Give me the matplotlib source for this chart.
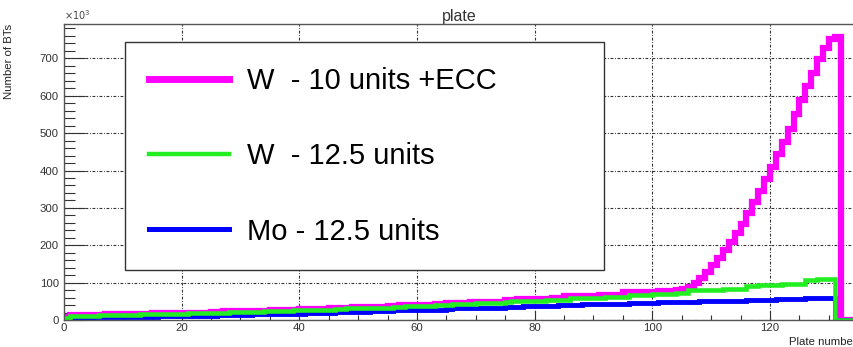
import numpy as np
import matplotlib
matplotlib.use("Agg")
import matplotlib.pyplot as plt
from matplotlib.lines import Line2D
from matplotlib.ticker import MultipleLocator

plt.rcParams['font.family'] = ['Liberation Sans', 'DejaVu Sans']

# plate bin edges 0..135, one bin per plate
plate_edges = np.arange(0, 136)

# number of base tracks per plate, in thousands
w10_ecc = [
    8,
    13, 13, 14, 14,
    14, 14, 15, 15, 15, 15, 15, 16, 16, 16,
    18, 18, 18, 19, 19, 19, 20, 20, 20, 20,
    22, 22, 23, 23, 23, 24, 24, 24, 25, 25,
    27, 27, 28, 28, 28, 29, 29, 29, 30, 30,
    32, 32, 33, 33, 34, 34, 34, 35, 35, 36,
    38, 38, 39, 39, 40, 40, 41, 41, 42, 42,
    45, 45, 46, 46, 47, 47, 48, 48, 49, 49,
    54, 54, 55, 55, 56, 56, 57, 57, 58, 58,
    63, 63, 64, 64, 65, 65, 66, 66, 67, 67,
    74, 74, 75, 75, 76, 76, 77, 77, 78, 79,
    82, 88, 98, 112, 128, 146, 165, 186, 208, 232,
    258, 286, 315, 346, 378, 410, 443, 477, 512, 550,
    588, 625, 660, 698, 728, 752, 756,
    0, 0, 0,
]

w125 = [
    5,
    11, 11, 11, 12, 12,
    13, 13, 13, 14, 14, 14, 14, 15, 15, 15,
    16, 16, 17, 17, 17, 18, 18, 18, 19, 19,
    20, 20, 21, 21, 21, 22, 22, 22, 23, 23,
    25, 25, 25, 26, 26, 26, 27, 27, 27, 28,
    30, 30, 31, 31, 31, 32, 32, 33, 33, 33,
    36, 36, 37, 37, 38, 38, 38, 39, 39, 40,
    43, 43, 44, 44, 45, 45, 45, 46, 46, 47,
    50, 50, 51, 51, 52, 52, 53, 53, 54, 54,
    58, 58, 59, 59, 60, 60, 61, 61, 62, 62,
    67, 67, 68, 68, 69, 69, 70, 70, 71, 71,
    79, 79, 80, 80, 81, 81, 82, 82, 83, 83,
    92, 92, 93, 93, 94, 94, 95, 95, 96, 96,
    108, 108, 109, 109, 110,
    0, 0, 0, 0,
]

mo125 = [
    3,
    6, 6, 6, 6, 7,
    7, 7, 8, 8, 8, 8, 9, 9, 9, 9,
    10, 10, 10, 11, 11, 11, 11, 12, 12, 12,
    13, 13, 13, 14, 14, 14, 15, 15, 15, 15,
    16, 16, 17, 17, 17, 18, 18, 18, 19, 19,
    21, 21, 21, 22, 22, 22, 23, 23, 23, 24,
    26, 26, 26, 27, 27, 27, 28, 28, 28, 29,
    31, 31, 31, 32, 32, 32, 33, 33, 33, 34,
    36, 36, 37, 37, 37, 38, 38, 38, 39, 39,
    41, 41, 42, 42, 42, 43, 43, 43, 44, 44,
    45, 45, 46, 46, 46, 47, 47, 47, 48, 48,
    49, 49, 50, 50, 50, 51, 51, 51, 52, 52,
    53, 53, 54, 54, 54, 55, 55, 55, 56, 56,
    58, 58, 59, 59, 60,
    0, 0, 0, 0,
]

labels = ["W  - 10 units +ECC", "W  - 12.5 units", "Mo - 12.5 units"]
colors = ["#ff00ff", "#22ee22", "#0000ff"]

W, H = 854, 347
fig = plt.figure(figsize=(W / 100, H / 100), dpi=100)
ax = fig.add_axes([64 / W, 27 / H, 791 / W, 296 / H])

ax.stairs(w10_ecc, plate_edges, baseline=0, color=colors[0], lw=4.5)
ax.stairs(mo125, plate_edges, baseline=0, color=colors[2], lw=3.5)
ax.stairs(w125, plate_edges, baseline=0, color=colors[1], lw=3.3)

ax.set_xlim(0, 134.45)
ax.set_ylim(0, 792)

ax.xaxis.set_major_locator(MultipleLocator(20))
ax.xaxis.set_minor_locator(MultipleLocator(5))
ax.yaxis.set_major_locator(MultipleLocator(100))
ax.yaxis.set_minor_locator(MultipleLocator(20))

ax.tick_params(axis='both', which='both', direction='in', colors='#333',
               labelsize=8.2, width=0.8, top=False, right=False)
ax.tick_params(axis='x', which='major', length=6.5, pad=2.2)
ax.tick_params(axis='x', which='minor', length=3.6)
ax.tick_params(axis='y', which='major', length=15, pad=3.6)
ax.tick_params(axis='y', which='minor', length=8)

ax.grid(True, which='major', color='#333', lw=0.8, ls=(0, (2.5, 1.5, 0.8, 1.5)))
ax.set_axisbelow(True)

for s in ax.spines.values():
    s.set_color('#555')
    s.set_linewidth(1.0)

ax.set_title('plate', fontsize=11.5, color='#333', pad=0.5)
ax.set_ylabel('Number of BTs', fontsize=8.2, color='#222', loc='top')
ax.yaxis.set_label_coords(-0.063, 1.0)
ax.set_xlabel('Plate number', fontsize=8.2, color='#222', loc='right')
ax.xaxis.set_label_coords(1.0025, -0.056)
ax.text(0.0, 1.008, r'$\times10^{3}$', transform=ax.transAxes, fontsize=7,
        color='#444', ha='left', va='bottom')

handles = [Line2D([], [], color=colors[0], lw=5.0),
           Line2D([], [], color=colors[1], lw=3.2),
           Line2D([], [], color=colors[2], lw=3.6)]
leg = ax.legend(handles, labels, loc='upper left', mode='expand',
                bbox_to_anchor=(124.7 / W, 1 - 268.3 / H, 479.3 / W, 226 / H),
                bbox_transform=fig.transFigure, borderaxespad=0,
                fontsize=21, handlelength=2.74, handletextpad=0.6,
                borderpad=0.85, labelspacing=1.62, fancybox=False,
                framealpha=1, edgecolor='#333')
leg.get_frame().set_linewidth(1.0)

fig.savefig("out.png", dpi=100)
